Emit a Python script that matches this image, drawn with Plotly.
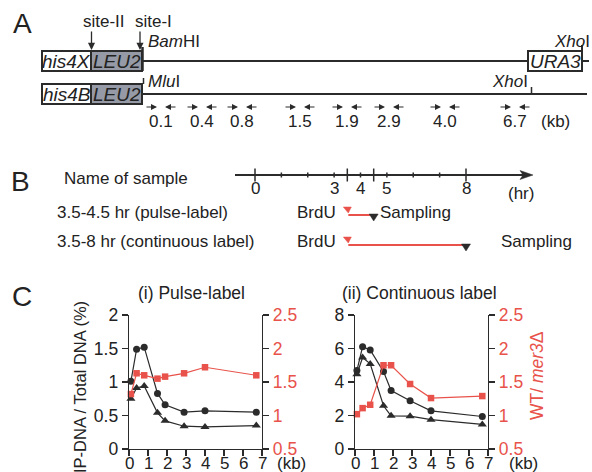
import plotly.graph_objects as go

W, H = 592, 472
FONT = "Liberation Sans, Arial, Helvetica, sans-serif"
RED = "#e8524a"
DARK = "#2b2b2b"
GRAY = "#959aa6"

# ---------------- data ----------------
KB = [0.1, 0.4, 0.8, 1.5, 1.9, 2.9, 4.0, 6.7]
KB_LABELS = ["0.1", "0.4", "0.8", "1.5", "1.9", "2.9", "4.0", "6.7"]
PULSE_CIRCLE = [1.01, 1.49, 1.52, 0.83, 0.66, 0.55, 0.57, 0.55]
PULSE_TRIANGLE = [0.75, 0.91, 0.94, 0.54, 0.42, 0.34, 0.33, 0.35]
PULSE_RATIO = [1.32, 1.63, 1.60, 1.55, 1.58, 1.63, 1.72, 1.60]
CONT_CIRCLE = [4.68, 6.11, 5.91, 4.62, 3.49, 2.88, 2.28, 1.94]
CONT_TRIANGLE = [4.46, 5.46, 5.08, 2.58, 1.98, 1.96, 1.75, 1.47]
CONT_RATIO = [1.02, 1.11, 1.16, 1.75, 1.75, 1.47, 1.26, 1.29]
X_TICKS = [0, 1, 2, 3, 4, 5, 6, 7]
Y_PULSE_TICKS = [0, 0.5, 1, 1.5, 2]
Y_PULSE_TEXT = ["0", "0.5", "1", "1.5", "2"]
Y_CONT_TICKS = [0, 2, 4, 6, 8]
Y_RATIO_TICKS = [0.5, 1, 1.5, 2, 2.5]
Y_RATIO_TEXT = ["0.5", "1", "1.5", "2", "2.5"]
HOUR_LABELS = [0, 3, 4, 5, 8]
HOUR_MINOR = [1, 2, 3, 4, 5, 6, 7]
HOUR_MAJOR = [0, 3.5, 4.5, 8]
SAMPLE_NAMES = ["3.5-4.5 hr (pulse-label)", "3.5-8 hr (continuous label)"]
SAMPLE_START = [3.5, 3.5]
SAMPLE_END = [4.5, 8.0]

# ---------------- layout helpers ----------------
def X(px):
    return px / W

def Y(py):
    return 1 - py / H

shapes = []
annots = []

def line(x0, y0, x1, y1, color=DARK, width=2):
    shapes.append(dict(type="line", xref="paper", yref="paper", x0=X(x0), y0=Y(y0),
                       x1=X(x1), y1=Y(y1), line=dict(color=color, width=width)))

def rect(x0, y0, x1, y1, fill, color=DARK, width=2):
    shapes.append(dict(type="rect", xref="paper", yref="paper", x0=X(x0), y0=Y(y1),
                       x1=X(x1), y1=Y(y0), fillcolor=fill, line=dict(color=color, width=width)))

def tri(pts, fill):
    path = "M " + " L ".join(f"{X(a)},{Y(b)}" for a, b in pts) + " Z"
    shapes.append(dict(type="path", xref="paper", yref="paper", path=path,
                       fillcolor=fill, line=dict(color=fill, width=0.5)))

def text(x, y, s, size=17, color="#222", xanchor="center", angle=0, xref="paper"):
    annots.append(dict(x=(X(x) if xref == "paper" else x), y=Y(y), xref=xref, yref="paper",
                       text=s, showarrow=False, xanchor=xanchor, yanchor="middle",
                       textangle=angle, borderpad=0,
                       font=dict(family=FONT, size=size, color=color)))

def arrow(xt, yt, dx, dy, width=1.3, size=1.0, head=2, color=DARK):
    annots.append(dict(x=X(xt), y=Y(yt), xref="paper", yref="paper", text="",
                       showarrow=True, ax=dx, ay=dy, arrowhead=head, arrowsize=size,
                       arrowwidth=width, arrowcolor=color, standoff=0, startstandoff=0))

# ---------------- panel A ----------------
text(22, 24, "A", size=28)
text(104.5, 22, "site-II")
text(153, 22, "site-I")
arrow(91.5, 50, 0, -20, width=1.3, size=1.1)
arrow(140, 50, 0, -20, width=1.3, size=1.1)

# row 1
line(142, 61, 528, 61)
rect(42, 51, 91, 71, "white")
rect(91, 51, 142, 71, GRAY)
line(142.5, 47, 142.5, 71, width=2.5)
rect(528, 51, 582, 71, "white")
line(582, 61, 589, 61)
line(582, 45, 582, 51)
text(66.5, 61.5, "<i>his4X</i>", size=19)
text(116.5, 61.5, "<i>LEU2</i>", size=19)
text(555, 61.5, "<i>URA3</i>", size=19)
text(147, 42, "<i>Bam</i>HI", xanchor="left")
text(572, 42, "<i>Xho</i>I")

# row 2
line(142, 94, 587, 94)
rect(42, 84, 91, 104, "white")
rect(91, 84, 142, 104, GRAY)
line(143.5, 78, 143.5, 84, width=1.5)
line(531.5, 87, 531.5, 94, width=1.5)
text(66.5, 94.5, "<i>his4B</i>", size=19)
text(116.5, 94.5, "<i>LEU2</i>", size=19)
text(147, 82, "<i>Mlu</i>I", xanchor="left")
text(510, 82, "<i>Xho</i>I")

# primer pairs
PRIMER_PX = [161, 202, 242, 300, 347, 389, 445, 515]
for cx, lab in zip(PRIMER_PX, KB_LABELS):
    arrow(cx - 4, 107, -12, 0, width=1.2, size=1.0)
    arrow(cx + 4, 107, 12, 0, width=1.2, size=1.0)
    text(cx, 122, lab)
text(555, 122, "(kb)")

# ---------------- panel B ----------------
def hr(h):
    return 255 + h * 26.375

text(20, 181, "B", size=28)
text(63, 178, "Name of sample", xanchor="left")
TL_Y = 175
line(235, TL_Y, 526, TL_Y, width=2)
tri([(533, TL_Y), (520, TL_Y - 4.5), (523, TL_Y), (520, TL_Y + 4.5)], DARK)
for h in HOUR_MAJOR:
    line(hr(h), TL_Y - 6.5, hr(h), TL_Y + 6.5, width=1.5)
for h in HOUR_MINOR:
    line(hr(h), TL_Y - 2.5, hr(h), TL_Y + 2.5, width=1.5)
for h in HOUR_LABELS:
    text(hr(h), 189, str(h))
text(521, 193, "(hr)")

ROW_Y = [212, 242]
SAMPLING_X = [379, 500]
for name, s, e, ry, sx in zip(SAMPLE_NAMES, SAMPLE_START, SAMPLE_END, ROW_Y, SAMPLING_X):
    text(56, ry, name, xanchor="left")
    text(337, ry, "BrdU", xanchor="right")
    text(sx, ry, "Sampling", xanchor="left")
    xs, xe = hr(s), hr(e)
    tri([(xs - 4, ry - 5), (xs + 4, ry - 5), (xs + 1, ry + 1)], RED)
    line(xs + 1, ry + 3, xe, ry + 3, color=RED, width=2)
    tri([(xe - 4.5, ry + 2), (xe + 4.5, ry + 2), (xe, ry + 9)], DARK)

# ---------------- panel C ----------------
text(22, 296, "C", size=28)
text(191, 293, "(i) Pulse-label", size=17.5)
text(419, 293, "(ii) Continuous label", size=17.5)
text(80, 387, "IP-DNA / Total DNA (%)", size=16.5, angle=-90)
text(537, 376, "WT/ <i>mer3</i>Δ", size=17.5, color=RED, angle=-90)
XT_Y = 463
for xa in ["x", "x2"]:
    for t in X_TICKS:
        text(t, XT_Y, str(t), size=17, xref=xa)
text(276, XT_Y, "(kb)", size=17, xanchor="left")
text(508, XT_Y, "(kb)", size=17, xanchor="left")

fig = go.Figure()

def series(xa, ya, yv, symbol, color, size):
    fig.add_trace(go.Scatter(x=KB, y=yv, xaxis=xa, yaxis=ya, mode="lines+markers",
                             line=dict(color=color, width=1.2),
                             marker=dict(symbol=symbol, color=color, size=size),
                             cliponaxis=False, showlegend=False, hoverinfo="skip"))

series("x", "y", PULSE_CIRCLE, "circle", DARK, 7)
series("x", "y", PULSE_TRIANGLE, "triangle-up", DARK, 8)
series("x", "y2", PULSE_RATIO, "square", RED, 6.5)
series("x2", "y3", CONT_CIRCLE, "circle", DARK, 7)
series("x2", "y3", CONT_TRIANGLE, "triangle-up", DARK, 8)
series("x2", "y4", CONT_RATIO, "square", RED, 6.5)

Y_DOM = [Y(449), Y(315)]
common = dict(showgrid=False, zeroline=False, showline=True, linecolor=DARK, linewidth=1.3,
              ticks="outside", ticklen=6, tickwidth=1.3, tickcolor=DARK, automargin=False,
              fixedrange=True)

fig.update_layout(
    width=W, height=H, margin=dict(l=0, r=0, t=0, b=0),
    paper_bgcolor="white", plot_bgcolor="rgba(0,0,0,0)",
    font=dict(family=FONT, size=17, color="#222"),
    hovermode=False,
    xaxis=dict(domain=[X(129), X(262)], anchor="y", range=[0, 7], tickvals=X_TICKS,
               showticklabels=False, **common),
    yaxis=dict(domain=Y_DOM, anchor="x", range=[0, 2], tickvals=Y_PULSE_TICKS,
               ticktext=Y_PULSE_TEXT, tickfont=dict(size=17.5, color="#222"), **common),
    yaxis2=dict(overlaying="y", anchor="x", side="right", range=[0.5, 2.5],
                tickvals=Y_RATIO_TICKS, ticktext=Y_RATIO_TEXT,
                tickfont=dict(size=17.5, color=RED), **common),
    xaxis2=dict(domain=[X(355), X(488)], anchor="y3", range=[0, 7], tickvals=X_TICKS,
                showticklabels=False, **common),
    yaxis3=dict(domain=Y_DOM, anchor="x2", range=[0, 8], tickvals=Y_CONT_TICKS,
                tickfont=dict(size=17.5, color="#222"), **common),
    yaxis4=dict(overlaying="y3", anchor="x2", side="right", range=[0.5, 2.5],
                tickvals=Y_RATIO_TICKS, ticktext=Y_RATIO_TEXT,
                tickfont=dict(size=17.5, color=RED), **common),
    shapes=shapes,
    annotations=annots,
)

fig.write_html("out.html", config={"displayModeBar": False, "staticPlot": True},
               post_script="document.body.style.margin='0';document.body.style.padding='0';")
